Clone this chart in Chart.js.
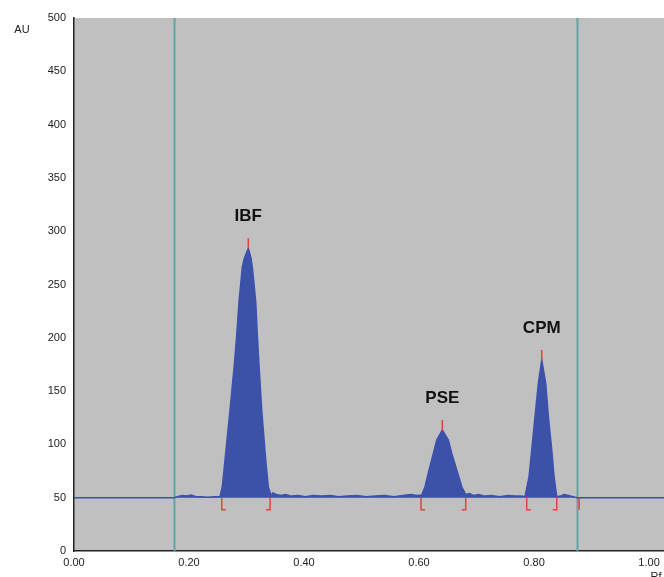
<!DOCTYPE html>
<html>
<head>
<meta charset="utf-8">
<script src="https://cdn.jsdelivr.net/npm/chart.js@4"></script>
<style>
  html, body { margin: 0; padding: 0; background: #fff; }
  #wrap { width: 664px; height: 577px; }
</style>
</head>
<body>
<div id="wrap"><canvas id="densitogram"></canvas></div>
<script>
// scanned track, Rf vs AU
const rfValues = [0, 0.174, 0.180, 0.188, 0.196, 0.204, 0.212, 0.222, 0.232, 0.244, 0.250, 0.2539,
  0.2579, 0.2626, 0.2713, 0.2788, 0.2830, 0.2870, 0.2927, 0.2962, 0.3031, 0.3078, 0.3101, 0.3160, 0.3188, 0.3217, 0.3264, 0.3334, 0.3379, 0.3426,
  0.346, 0.352, 0.360, 0.368, 0.378, 0.390, 0.402, 0.416, 0.430, 0.446, 0.460, 0.476, 0.492,
  0.508, 0.524, 0.540, 0.556, 0.572, 0.586, 0.596, 0.6047,
  0.6104, 0.6174, 0.6249, 0.6308, 0.6405, 0.6510, 0.6569, 0.6656, 0.6743, 0.6812,
  0.688, 0.695, 0.704, 0.714, 0.726, 0.740, 0.754, 0.768, 0.778, 0.7843,
  0.7913, 0.7960, 0.8017, 0.8075, 0.8134, 0.8203, 0.8249, 0.8308, 0.8348, 0.8395,
  0.846, 0.852, 0.860, 0.868, 0.875, 1.026];
const auValues = [50, 50, 51, 52, 51.5, 52.5, 51, 51, 50.5, 51, 51, 51,
  60.3, 85.4, 132.3, 174.5, 202.6, 233.9, 266.2, 274.6, 284, 274.6, 266.2, 233.9, 202.6, 174.5, 132.3, 85.4, 60.3, 52,
  54.5, 53, 52, 53, 51.5, 52, 51, 52, 51.5, 52, 51, 51.5, 52,
  51, 51.5, 52, 51, 52, 53, 52, 52.5,
  60.3, 76, 91.6, 104.1, 113.5, 104.1, 91.6, 76, 60.3, 53,
  54, 52, 53, 51.5, 52, 51, 52, 51.5, 51.5, 51,
  69.7, 94.7, 126, 157.3, 179.2, 157.3, 126, 94.7, 69.7, 51,
  51.5, 53, 52, 51, 50, 50];

// integrated peaks
const peakNames = ['IBF', 'PSE', 'CPM'];
const peakRf = [0.3031, 0.6405, 0.8134];
const peakAU = [284, 113.5, 179.2];
const peakStart = [0.257, 0.6035, 0.7873];
const peakEnd = [0.341, 0.6812, 0.8395];
const baselineAU = 50;

// track start / end markers
const trackLimits = [0.174, 0.875];

const xTicks = [0, 0.2, 0.4, 0.6, 0.8, 1.0];
const yTicks = [0, 50, 100, 150, 200, 250, 300, 350, 400, 450, 500];

const points = rfValues.map((x, i) => ({ x: x, y: auValues[i] }));

const plotBackground = {
  id: 'plotBackground',
  beforeDraw(chart) {
    const { ctx, chartArea: a } = chart;
    ctx.save();
    ctx.fillStyle = '#c0c0c0';
    ctx.fillRect(a.left, a.top, a.right - a.left, a.bottom - a.top);
    ctx.restore();
  }
};

const markers = {
  id: 'markers',
  beforeDatasetsDraw(chart) {
    const { ctx, chartArea: a, scales: { x, y } } = chart;
    ctx.save();
    ctx.strokeStyle = '#5fa3a3';
    ctx.lineWidth = 2;
    trackLimits.forEach(v => {
      const px = Math.round(x.getPixelForValue(v)) + 0.5;
      ctx.beginPath();
      ctx.moveTo(px, a.top);
      ctx.lineTo(px, a.bottom);
      ctx.stroke();
    });
    ctx.restore();
  },
  afterDatasetsDraw(chart) {
    const { ctx, scales: { x, y } } = chart;
    const yb = y.getPixelForValue(baselineAU);
    ctx.save();
    ctx.strokeStyle = '#e8403a';
    ctx.lineWidth = 1.5;
    peakNames.forEach((name, i) => {
      const px = x.getPixelForValue(peakRf[i]);
      const py = y.getPixelForValue(peakAU[i]);
      ctx.beginPath();
      ctx.moveTo(px, py);
      ctx.lineTo(px, py - 10);
      ctx.stroke();
      const s = x.getPixelForValue(peakStart[i]);
      const e = x.getPixelForValue(peakEnd[i]);
      ctx.beginPath();
      ctx.moveTo(s, yb);
      ctx.lineTo(s, yb + 12);
      ctx.lineTo(s + 4, yb + 12);
      ctx.moveTo(e, yb);
      ctx.lineTo(e, yb + 12);
      ctx.lineTo(e - 4, yb + 12);
      ctx.stroke();

      ctx.fillStyle = '#111';
      ctx.font = 'bold 17px "Liberation Sans", Arial, sans-serif';
      ctx.textAlign = 'center';
      ctx.textBaseline = 'middle';
      ctx.fillText(name, px, py - 32);
    });
    const te = x.getPixelForValue(trackLimits[1]) + 2;
    ctx.beginPath();
    ctx.moveTo(te, yb);
    ctx.lineTo(te, yb + 12);
    ctx.stroke();

    ctx.fillStyle = '#222';
    ctx.font = '11px "Liberation Sans", Arial, sans-serif';
    ctx.textAlign = 'center';
    ctx.textBaseline = 'middle';
    ctx.fillText('AU', 22, 30);
    ctx.textBaseline = 'top';
    ctx.fillText('Rf', 656, 571);
    ctx.restore();
  }
};

new Chart(document.getElementById('densitogram').getContext('2d'), {
  type: 'line',
  data: {
    datasets: [{
      label: 'track',
      data: points,
      borderColor: '#3d4fb0',
      backgroundColor: '#3b52a6',
      borderWidth: 1.5,
      pointRadius: 0,
      tension: 0,
      fill: { value: baselineAU }
    }]
  },
  options: {
    responsive: true,
    maintainAspectRatio: false,
    animation: false,
    layout: { padding: { top: 18, right: 0, left: 0, bottom: 0 } },
    plugins: { legend: { display: false }, tooltip: { enabled: false } },
    scales: {
      x: {
        type: 'linear',
        min: 0,
        max: 1.026,
        afterBuildTicks: s => { s.ticks = xTicks.map(v => ({ value: v })); },
        afterFit: s => { s.height = 26; },
        grid: { display: false, drawTicks: true, tickLength: 4, tickColor: '#222' },
        border: { color: '#222', width: 1.5 },
        ticks: {
          color: '#222',
          font: { family: '"Liberation Sans", Arial, sans-serif', size: 11 },
          padding: 1,
          maxRotation: 0,
          callback: v => v.toFixed(2)
        }
      },
      y: {
        min: 0,
        max: 500,
        afterBuildTicks: s => { s.ticks = yTicks.map(v => ({ value: v })); },
        afterFit: s => { s.width = 74; },
        grid: { display: false, drawTicks: true, tickLength: 6, tickColor: '#222' },
        border: { color: '#222', width: 1.5 },
        ticks: {
          color: '#222',
          font: { family: '"Liberation Sans", Arial, sans-serif', size: 11 },
          padding: 2
        }
      }
    }
  },
  plugins: [plotBackground, markers]
});
</script>
</body>
</html>
